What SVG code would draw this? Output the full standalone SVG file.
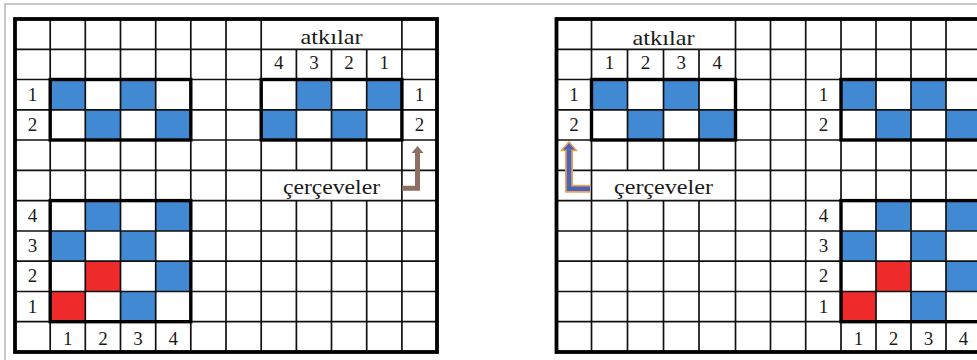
<svg xmlns="http://www.w3.org/2000/svg" width="977" height="360" viewBox="0 0 977 360">
<defs>
<style>
.thin{fill:none;stroke:#111;stroke-width:1.7}
.thick{fill:none;stroke:#000;stroke-width:3.4}
.outer{fill:none;stroke:#000;stroke-width:3.8}
.b{fill:#4189d2}
.r{fill:#ee2a2a}
text{font-family:"Liberation Serif","Times New Roman",serif;font-size:19px;fill:#1a1a1a;text-anchor:middle}
.lbl{font-size:21px}
</style>
</defs>
<rect width="977" height="360" fill="#fff"/>
<rect x="5" y="4" width="990" height="380" fill="none" stroke="#c8c8c8" stroke-width="2"/>

<g id="left-grid">
<rect x="15" y="19" width="422" height="333" fill="#fff"/>
<g id="left-cells">
<rect class="b" x="50.2" y="79.5" width="35.1" height="30.3"/>
<rect class="b" x="120.5" y="79.5" width="35.2" height="30.3"/>
<rect class="b" x="85.3" y="109.8" width="35.2" height="30.2"/>
<rect class="b" x="155.7" y="109.8" width="35.1" height="30.2"/>
<rect class="b" x="296.4" y="79.5" width="35.1" height="30.3"/>
<rect class="b" x="366.7" y="79.5" width="35.2" height="30.3"/>
<rect class="b" x="261.2" y="109.8" width="35.2" height="30.2"/>
<rect class="b" x="331.5" y="109.8" width="35.2" height="30.2"/>
<rect class="b" x="85.3" y="200.6" width="35.2" height="30.4"/>
<rect class="b" x="155.7" y="200.6" width="35.1" height="30.4"/>
<rect class="b" x="50.2" y="231" width="35.1" height="30.2"/>
<rect class="b" x="120.5" y="231" width="35.2" height="30.2"/>
<rect class="r" x="85.3" y="261.2" width="35.2" height="30.3"/>
<rect class="b" x="155.7" y="261.2" width="35.1" height="30.3"/>
<rect class="r" x="50.2" y="291.5" width="35.1" height="30.2"/>
<rect class="b" x="120.5" y="291.5" width="35.2" height="30.2"/>
</g>
<path class="thin" d="M50.2 19V352M85.3 19V352M120.5 19V352M155.7 19V352M190.8 19V352M226 19V352M261.2 19V352M296.4 49.3V170.4M296.4 200.6V352M331.5 49.3V170.4M331.5 200.6V352M366.7 49.3V170.4M366.7 200.6V352M401.9 19V352"/>
<path class="thin" d="M15 49.3H437M15 79.5H437M15 109.8H437M15 140H437M15 170.4H437M15 200.6H437M15 231H437M15 261.2H437M15 291.5H437M15 321.7H437"/>
<rect class="thick" x="50.2" y="79.5" width="140.6" height="60.5"/>
<rect class="thick" x="261.2" y="79.5" width="140.7" height="60.5"/>
<rect class="thick" x="50.2" y="200.6" width="140.6" height="121.1"/>
<rect class="outer" x="15" y="19" width="422" height="333"/>
<g id="left-texts">
<text class="lbl" x="331.5" y="44" textLength="62" lengthAdjust="spacingAndGlyphs">atkılar</text>
<text class="lbl" x="331.5" y="193.5" textLength="97" lengthAdjust="spacingAndGlyphs">çerçeveler</text>
<text x="278.8" y="69">4</text><text x="314" y="69">3</text><text x="349.1" y="69">2</text><text x="384.3" y="69">1</text>
<text x="32.6" y="100.5">1</text><text x="32.6" y="130.8">2</text>
<text x="419.5" y="100.5">1</text><text x="419.5" y="130.8">2</text>
<text x="32.6" y="221.8">4</text><text x="32.6" y="252.1">3</text><text x="32.6" y="282.4">2</text><text x="32.6" y="312.6">1</text>
<text x="67.8" y="344.5">1</text><text x="102.9" y="344.5">2</text><text x="138.1" y="344.5">3</text><text x="173.3" y="344.5">4</text>
</g>
</g>

<g id="right-grid">
<rect x="556.5" y="19" width="424.5" height="333" fill="#fff"/>
<g id="right-cells">
<rect class="b" x="591.5" y="79.5" width="36" height="30.3"/>
<rect class="b" x="663.5" y="79.5" width="35.5" height="30.3"/>
<rect class="b" x="627.5" y="109.8" width="36" height="30.2"/>
<rect class="b" x="699" y="109.8" width="36.5" height="30.2"/>
<rect class="b" x="841" y="79.5" width="35" height="30.3"/>
<rect class="b" x="911" y="79.5" width="35" height="30.3"/>
<rect class="b" x="876" y="109.8" width="35" height="30.2"/>
<rect class="b" x="946" y="109.8" width="35" height="30.2"/>
<rect class="b" x="876" y="200.6" width="35" height="30.4"/>
<rect class="b" x="946" y="200.6" width="35" height="30.4"/>
<rect class="b" x="841" y="231" width="35" height="30.2"/>
<rect class="b" x="911" y="231" width="35" height="30.2"/>
<rect class="r" x="876" y="261.2" width="35" height="30.3"/>
<rect class="b" x="946" y="261.2" width="35" height="30.3"/>
<rect class="r" x="841" y="291.5" width="35" height="30.2"/>
<rect class="b" x="911" y="291.5" width="35" height="30.2"/>
</g>
<path class="thin" d="M591.5 19V352M627.5 49.3V170.4M627.5 200.6V352M663.5 49.3V170.4M663.5 200.6V352M699 49.3V170.4M699 200.6V352M735.5 19V352M770.5 19V352M805.7 19V352M841 19V352M876 19V352M911 19V352M946 19V352"/>
<path class="thin" d="M556.5 49.3H981M556.5 79.5H981M556.5 109.8H981M556.5 140H981M556.5 170.4H981M556.5 200.6H981M556.5 231H981M556.5 261.2H981M556.5 291.5H981M556.5 321.7H981"/>
<rect class="thick" x="591.5" y="79.5" width="144" height="60.5"/>
<rect class="thick" x="841" y="79.5" width="140" height="60.5"/>
<rect class="thick" x="841" y="200.6" width="140" height="121.1"/>
<rect class="outer" x="556.5" y="19" width="424.5" height="333"/>
<g id="right-texts">
<text class="lbl" x="663.5" y="44.5" textLength="62" lengthAdjust="spacingAndGlyphs">atkılar</text>
<text class="lbl" x="663.5" y="194" textLength="99" lengthAdjust="spacingAndGlyphs">çerçeveler</text>
<text x="609.5" y="69">1</text><text x="645.5" y="69">2</text><text x="681.3" y="69">3</text><text x="717.3" y="69">4</text>
<text x="574" y="100.5">1</text><text x="574" y="130.8">2</text>
<text x="823.4" y="100.5">1</text><text x="823.4" y="130.8">2</text>
<text x="823.4" y="221.8">4</text><text x="823.4" y="252.1">3</text><text x="823.4" y="282.4">2</text><text x="823.4" y="312.6">1</text>
<text x="858.5" y="344.5">1</text><text x="893.5" y="344.5">2</text><text x="928.5" y="344.5">3</text><text x="963.5" y="344.5">4</text>
</g>
</g>

<g id="connectors">
<path d="M402 188.3H417.5V152" fill="none" stroke="#8d6f63" stroke-width="5"/>
<polygon points="411.5,153 423.5,153 417.5,146" fill="#8d6f63"/>
<path d="M590 188.8H569V150" fill="none" stroke="#e9a15c" stroke-width="8"/>
<polygon points="561.5,150.5 576.5,150.5 569,142" fill="#4a62b8" stroke="#e9a15c" stroke-width="1.5"/>
<path d="M590 188.8H569V150" fill="none" stroke="#4a62b8" stroke-width="4.5"/>
</g>
</svg>
